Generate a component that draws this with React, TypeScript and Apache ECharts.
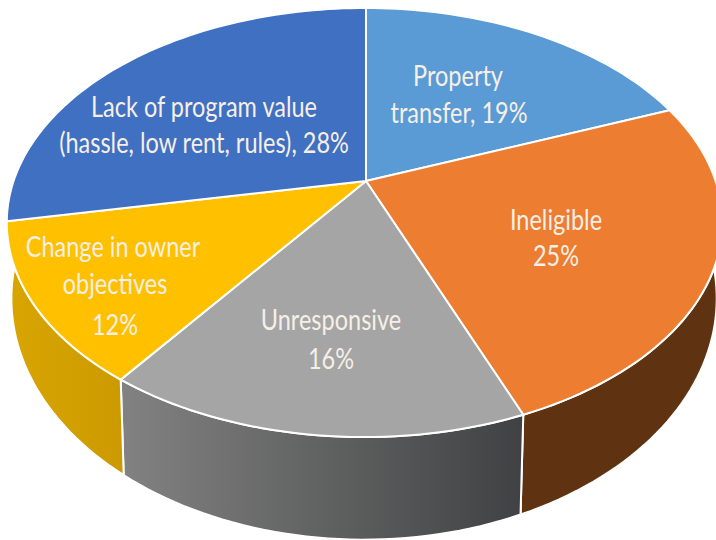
import React, { useEffect, useRef } from "react";
import * as echarts from "echarts";

const categories = ["Property transfer", "Ineligible", "Unresponsive", "Change in owner objectives", "Lack of program value (hassle, low rent, rules)"];
const values = [19, 25, 16, 12, 28];
const topColors = ["#5B9BD5", "#ED7D31", "#A5A5A5", "#FFC000", "#4070C2"];
const wallStops = [
  ["#3A6C99", "#3A6C99"],
  ["#5F3312", "#5F3312"],
  ["#828282", "#404142"],
  ["#D8A500", "#CC9A00"],
  ["#2F5597", "#2F5597"],
];
const labelLines = [
  ["Property", "transfer, 19%"],
  ["Ineligible", "25%"],
  ["Unresponsive", "16%"],
  ["Change in owner", "objectives", "12%"],
  ["Lack of program value", "(hassle, low rent, rules), 28%"],
];
const labelAnchors = [
  [[458, 75], [459, 112]],
  [[556, 219], [556, 255]],
  [[331, 319], [331, 358]],
  [[113, 246], [115, 283], [115, 324]],
  [[204, 106], [204, 142]],
];

const K = 0.1935;
const M = 0.004;
const TOP = { x: 366, y: 181, a: 351, b: 206.5 };
const LOW = { x: 365.5, y: 252, a: 346, b: 232 };
// Slices whose side wall is hidden under the top face; the last visible wall runs on a little so the rim closes.
const hiddenWalls = [0, 4];
const wallOverrun: Record<number, number> = { 3: 0.35 };

const total = values.reduce((s, v) => s + v, 0);
const startOf = (i: number) => (values.slice(0, i).reduce((s, v) => s + v, 0) / total) * Math.PI * 2;

function project(p: typeof TOP, t: number): number[] {
  const u = Math.sin(t);
  const v = Math.cos(t);
  const w = 1 + K * v + M * u;
  return [p.x + (p.a * u) / w, p.y - (p.b * v) / w];
}

function arc(p: typeof TOP, t0: number, t1: number): number[][] {
  const n = Math.max(8, Math.ceil(((t1 - t0) / (Math.PI * 2)) * 240));
  const pts: number[][] = [];
  for (let j = 0; j <= n; j++) pts.push(project(p, t0 + ((t1 - t0) * j) / n));
  return pts;
}

const seriesData = categories.map((name, i) => ({ name, value: [i, values[i]] }));

function renderWall(_: unknown, api: any) {
  const i = api.value(0);
  if (hiddenWalls.includes(i)) return null;
  const t0 = startOf(i);
  const t1 = t0 + (api.value(1) / total) * Math.PI * 2 + (wallOverrun[i] || 0);
  const points = [...arc(TOP, t0, t1), ...arc(LOW, t0, t1).reverse()];
  return {
    type: "polygon",
    shape: { points },
    style: {
      fill: new echarts.graphic.LinearGradient(0, 0, 1, 0, [
        { offset: 0, color: wallStops[i][0] },
        { offset: 1, color: wallStops[i][1] },
      ]),
      stroke: "#FFFFFF",
      lineWidth: 2,
    },
  };
}

function renderTop(_: unknown, api: any) {
  const i = api.value(0);
  const t0 = startOf(i);
  const t1 = t0 + (api.value(1) / total) * Math.PI * 2;
  const points = [[TOP.x, TOP.y], ...arc(TOP, t0, t1)];
  return {
    type: "polygon",
    shape: { points },
    style: { fill: topColors[i], stroke: "#FFFFFF", lineWidth: 2, lineJoin: "round" },
  };
}

const FONT = 28;
const TEXT_SQUEEZE = 0.84;

export default function App() {
  const ref = useRef<HTMLDivElement>(null);
  useEffect(() => {
    document.body.style.margin = "0";
    const chart = echarts.init(ref.current as HTMLDivElement, undefined, { renderer: "svg" });
    const texts: any[] = [];
    labelLines.forEach((lines, i) =>
      lines.forEach((text, j) => {
        texts.push({
          type: "text",
          x: labelAnchors[i][j][0],
          y: labelAnchors[i][j][1],
          scaleX: TEXT_SQUEEZE,
          z: 10,
          style: {
            text,
            fill: "#F6EFE6",
            font: `${FONT}px Lato`,
            textAlign: "center",
            textVerticalAlign: "middle",
          },
        });
      })
    );
    chart.setOption({
      animation: false,
      backgroundColor: "#FFFFFF",
      series: [
        { type: "custom", coordinateSystem: "none", silent: true, renderItem: renderWall, data: seriesData, z: 1 },
        { type: "custom", coordinateSystem: "none", silent: true, renderItem: renderTop, data: seriesData, z: 2 },
      ],
      graphic: { elements: texts },
    });
    return () => chart.dispose();
  }, []);
  return <div ref={ref} style={{ width: 716, height: 540 }} />;
}
